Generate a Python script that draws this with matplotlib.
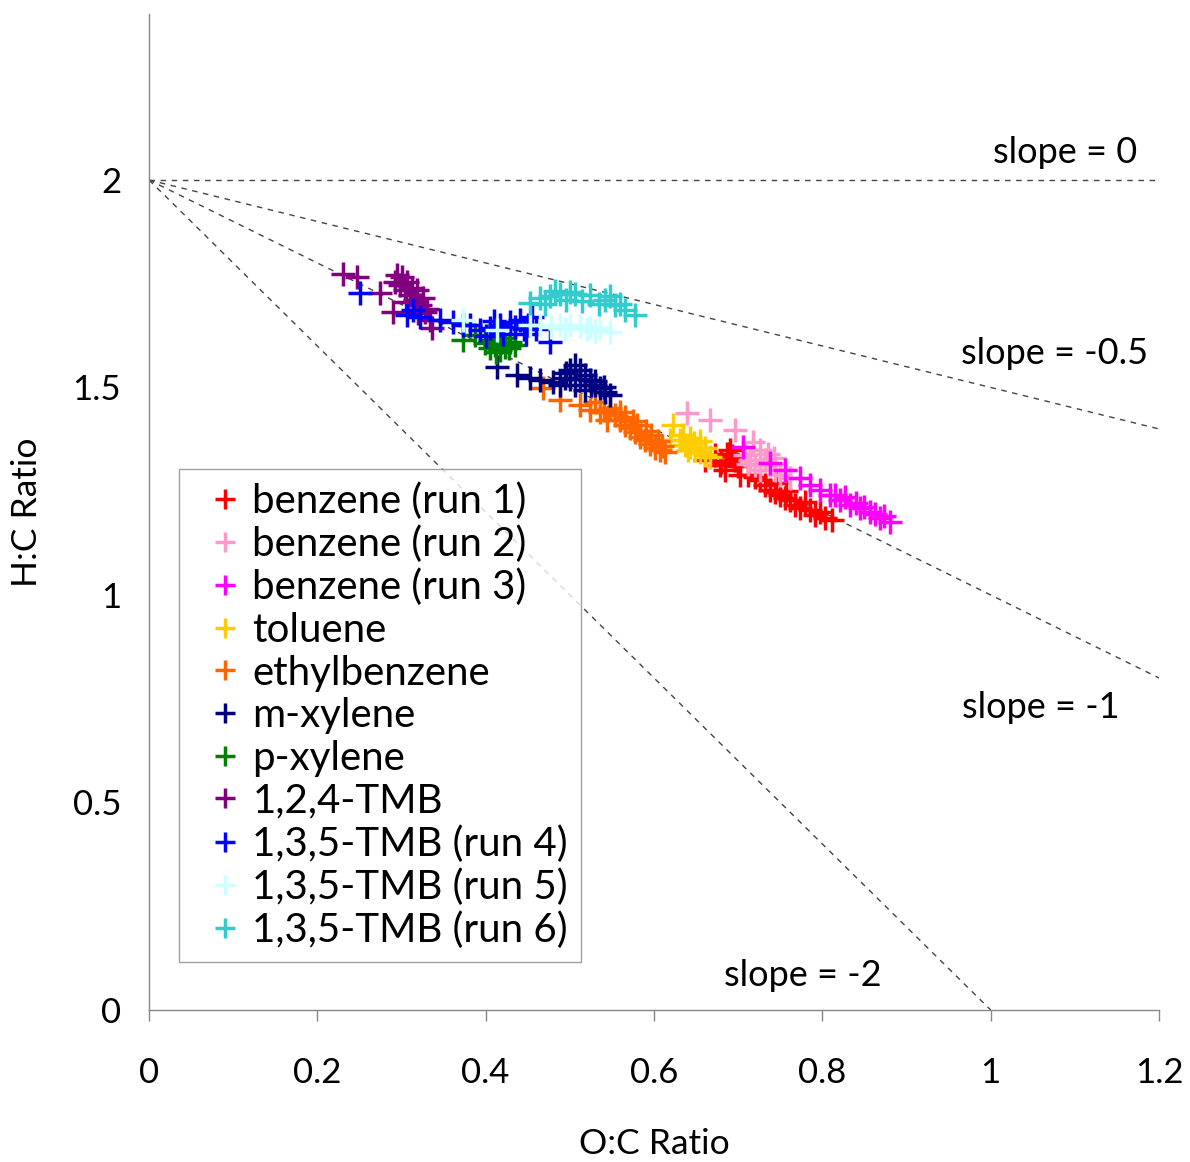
import matplotlib
matplotlib.use("Agg")
import matplotlib.pyplot as plt

plt.rcParams['font.family'] = ['Lato', 'DejaVu Sans']

# ---- data (O:C, H:C) ----
benz1_x = [0.661, 0.672, 0.678, 0.684, 0.690, 0.696, 0.702, 0.687, 0.700, 0.726, 0.732, 0.738, 0.744, 0.750, 0.756, 0.762, 0.768, 0.773, 0.785, 0.791, 0.803, 0.811, 0.745, 0.757, 0.779, 0.680, 0.693, 0.712, 0.720, 0.797]
benz1_y = [1.325, 1.337, 1.313, 1.301, 1.349, 1.325, 1.289, 1.340, 1.310, 1.277, 1.265, 1.253, 1.248, 1.241, 1.234, 1.229, 1.217, 1.210, 1.205, 1.193, 1.186, 1.181, 1.270, 1.250, 1.225, 1.320, 1.335, 1.290, 1.285, 1.200]

benz2_x = [0.639, 0.667, 0.696, 0.718, 0.708, 0.714, 0.720, 0.726, 0.732, 0.738, 0.744, 0.750, 0.762, 0.726, 0.735, 0.756, 0.712, 0.742]
benz2_y = [1.439, 1.422, 1.398, 1.369, 1.337, 1.325, 1.313, 1.301, 1.325, 1.313, 1.301, 1.289, 1.282, 1.349, 1.340, 1.300, 1.315, 1.330]

benz3_x = [0.706, 0.738, 0.756, 0.773, 0.785, 0.797, 0.809, 0.821, 0.833, 0.845, 0.857, 0.868, 0.880, 0.815, 0.840, 0.862, 0.827, 0.850, 0.873]
benz3_y = [1.357, 1.318, 1.301, 1.282, 1.265, 1.253, 1.241, 1.229, 1.217, 1.210, 1.200, 1.186, 1.176, 1.240, 1.222, 1.195, 1.235, 1.212, 1.190]

tol_x = [0.623, 0.619, 0.631, 0.637, 0.643, 0.649, 0.655, 0.661, 0.666, 0.643, 0.655, 0.635, 0.648, 0.640, 0.660]
tol_y = [1.410, 1.373, 1.373, 1.361, 1.357, 1.349, 1.345, 1.337, 1.333, 1.378, 1.371, 1.385, 1.365, 1.350, 1.355]

ebz_x = [0.468, 0.488, 0.512, 0.524, 0.536, 0.544, 0.554, 0.560, 0.566, 0.571, 0.577, 0.583, 0.589, 0.595, 0.601, 0.607, 0.613, 0.560, 0.575, 0.590, 0.605, 0.548, 0.530, 0.565, 0.580, 0.596, 0.610, 0.540]
ebz_y = [1.499, 1.470, 1.458, 1.446, 1.441, 1.422, 1.434, 1.422, 1.410, 1.402, 1.393, 1.381, 1.373, 1.364, 1.354, 1.349, 1.345, 1.440, 1.420, 1.395, 1.370, 1.450, 1.465, 1.430, 1.410, 1.385, 1.360, 1.445]

mxy_x = [0.413, 0.437, 0.453, 0.465, 0.480, 0.488, 0.494, 0.500, 0.506, 0.512, 0.518, 0.524, 0.530, 0.536, 0.542, 0.548, 0.506, 0.518, 0.500, 0.525, 0.496, 0.512, 0.530, 0.540]
mxy_y = [1.549, 1.530, 1.523, 1.518, 1.513, 1.506, 1.523, 1.542, 1.554, 1.542, 1.530, 1.518, 1.506, 1.499, 1.489, 1.482, 1.506, 1.494, 1.520, 1.505, 1.535, 1.520, 1.515, 1.500]

pxy_x = [0.373, 0.387, 0.399, 0.405, 0.411, 0.417, 0.423, 0.429, 0.435, 0.405, 0.420, 0.412, 0.428]
pxy_y = [1.614, 1.627, 1.607, 1.595, 1.602, 1.590, 1.598, 1.610, 1.602, 1.615, 1.620, 1.585, 1.595]

tmb124_x = [0.2305, 0.247, 0.274, 0.290, 0.292, 0.298, 0.304, 0.310, 0.316, 0.322, 0.328, 0.334, 0.336, 0.300, 0.312, 0.325, 0.295, 0.306, 0.318, 0.330, 0.320, 0.305]
tmb124_y = [1.7735, 1.766, 1.728, 1.682, 1.754, 1.747, 1.735, 1.723, 1.711, 1.699, 1.682, 1.663, 1.643, 1.765, 1.740, 1.715, 1.770, 1.755, 1.735, 1.690, 1.680, 1.705]

tmb4_x = [0.251, 0.307, 0.314, 0.322, 0.346, 0.361, 0.373, 0.381, 0.393, 0.405, 0.417, 0.429, 0.441, 0.450, 0.460, 0.476, 0.400, 0.420, 0.445, 0.455, 0.410, 0.435, 0.448]
tmb4_y = [1.728, 1.675, 1.687, 1.670, 1.663, 1.658, 1.651, 1.651, 1.639, 1.643, 1.651, 1.658, 1.663, 1.650, 1.640, 1.610, 1.625, 1.630, 1.640, 1.670, 1.660, 1.645, 1.628]

tmb5_x = [0.373, 0.413, 0.453, 0.465, 0.488, 0.500, 0.512, 0.524, 0.536, 0.548, 0.478, 0.520, 0.494, 0.530]
tmb5_y = [1.663, 1.639, 1.651, 1.651, 1.651, 1.650, 1.648, 1.646, 1.643, 1.634, 1.645, 1.640, 1.640, 1.635]

tmb6_x = [0.453, 0.465, 0.476, 0.488, 0.506, 0.524, 0.542, 0.554, 0.566, 0.577, 0.470, 0.495, 0.515, 0.535, 0.482, 0.500, 0.548, 0.560]
tmb6_y = [1.704, 1.716, 1.720, 1.725, 1.725, 1.723, 1.711, 1.699, 1.687, 1.675, 1.700, 1.710, 1.708, 1.700, 1.732, 1.730, 1.720, 1.700]

series = [
    ("benzene (run 1)", benz1_x, benz1_y, "#ff0000"),
    ("benzene (run 2)", benz2_x, benz2_y, "#ff99cc"),
    ("benzene (run 3)", benz3_x, benz3_y, "#ff00ff"),
    ("toluene", tol_x, tol_y, "#ffcc00"),
    ("ethylbenzene", ebz_x, ebz_y, "#ff6600"),
    ("m-xylene", mxy_x, mxy_y, "#000080"),
    ("p-xylene", pxy_x, pxy_y, "#008000"),
    ("1,2,4-TMB", tmb124_x, tmb124_y, "#800080"),
    ("1,3,5-TMB (run 4)", tmb4_x, tmb4_y, "#0000ff"),
    ("1,3,5-TMB (run 5)", tmb5_x, tmb5_y, "#ccffff"),
    ("1,3,5-TMB (run 6)", tmb6_x, tmb6_y, "#33cccc"),
]

slopes = [0, -0.5, -1, -2]
slope_labels = ["slope = 0", "slope = -0.5", "slope = -1", "slope = -2"]
slope_label_pos = [(1.088, 2.067), (1.076, 1.583), (1.059, 0.728), (0.777, 0.084)]

fig = plt.figure(figsize=(11.9, 11.62), dpi=100)
ax = fig.add_axes([0.1252, 0.1308, 0.974 - 0.1252, 0.988 - 0.1308])

for s in slopes:
    xe = 1.2 if s == 0 else min(1.2, -2.0 / s)
    ax.plot([0, xe], [2, 2 + s * xe], ls=(0, (4, 4)), color="#444444", lw=1.0, zorder=1)

for name, xs, ys, c in series:
    ax.plot(xs, ys, ls="none", marker="+", ms=17, mew=2.5, color=c, label=name, zorder=3)

for lab, (lx, ly) in zip(slope_labels, slope_label_pos):
    ax.text(lx, ly, lab, fontsize=26, ha="center", va="center")

ax.set_xlim(0, 1.2)
ax.set_ylim(0, 2.4)
ax.set_xticks([0, 0.2, 0.4, 0.6, 0.8, 1, 1.2])
ax.set_xticklabels(["0", "0.2", "0.4", "0.6", "0.8", "1", "1.2"])
ax.set_yticks([0, 0.5, 1, 1.5, 2])
ax.set_yticklabels(["0", "0.5", "1", "1.5", "2"])
ax.tick_params(axis="x", direction="out", length=8, width=1, color="#888888", labelsize=25, pad=26)
ax.tick_params(axis="y", length=0, labelsize=25, pad=20)
for sp in ["top", "right"]:
    ax.spines[sp].set_visible(False)
for sp in ["left", "bottom"]:
    ax.spines[sp].set_color("#888888")
    ax.spines[sp].set_linewidth(1)

ax.set_xlabel("O:C Ratio", fontsize=25.5, labelpad=28)
ax.set_ylabel("H:C Ratio", fontsize=25.5, labelpad=21)

leg = ax.legend(loc="upper left", bbox_to_anchor=(0.0297, 0.543), fontsize=29, frameon=True,
                fancybox=False, edgecolor="#888888", handlelength=1.65, handletextpad=-0.15,
                labelspacing=0.14, borderpad=0.32, borderaxespad=0, markerscale=0.85)
leg.get_frame().set_linewidth(1)

fig.savefig("out.png", dpi=100)
